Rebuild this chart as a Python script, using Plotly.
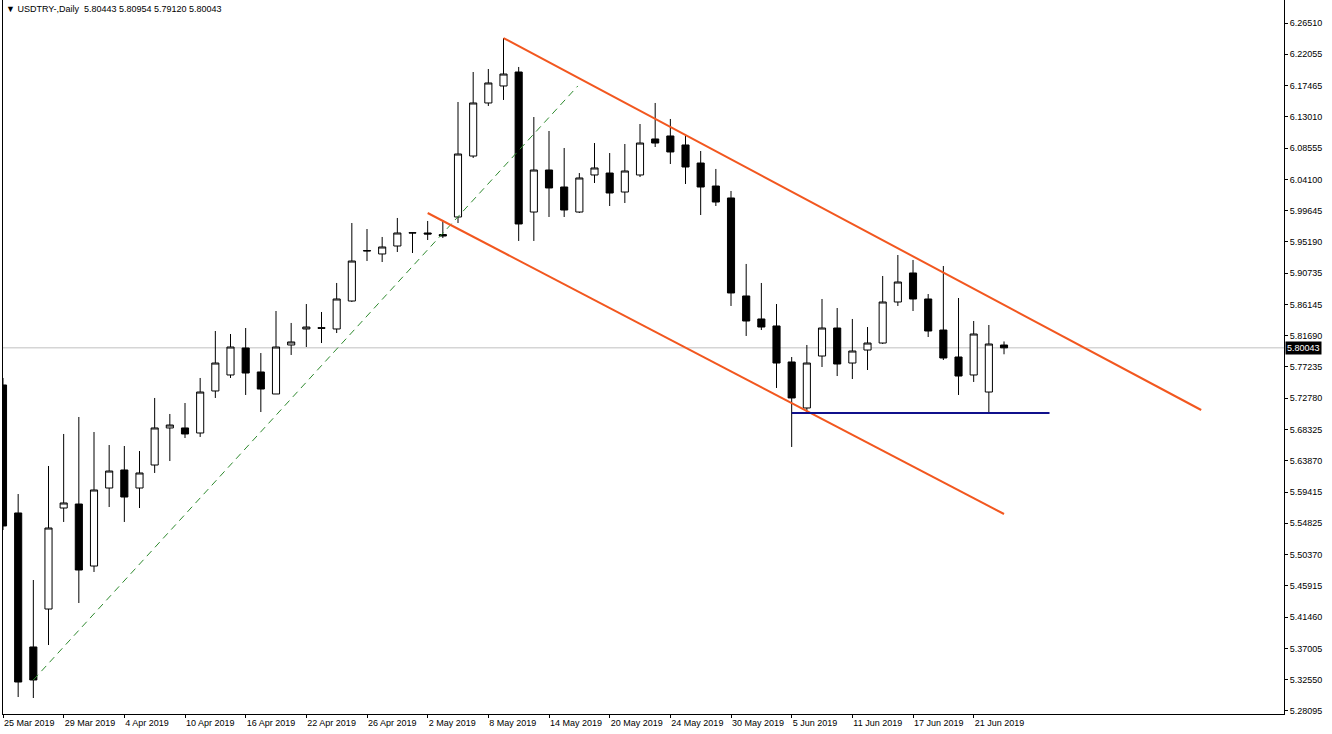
import numpy as np
import plotly.graph_objects as go

# ---- data ----
dates = ["25 Mar", "26 Mar", "27 Mar", "28 Mar", "29 Mar", "1 Apr", "2 Apr", "3 Apr", "4 Apr", "5 Apr",
         "8 Apr", "9 Apr", "10 Apr", "11 Apr", "12 Apr", "15 Apr", "16 Apr", "17 Apr", "18 Apr", "19 Apr",
         "22 Apr", "23 Apr", "24 Apr", "25 Apr", "26 Apr", "29 Apr", "30 Apr", "1 May", "2 May", "3 May",
         "6 May", "7 May", "8 May", "9 May", "10 May", "13 May", "14 May", "15 May", "16 May", "17 May",
         "20 May", "21 May", "22 May", "23 May", "24 May", "27 May", "28 May", "29 May", "30 May", "31 May",
         "3 Jun", "4 Jun", "5 Jun", "6 Jun", "7 Jun", "10 Jun", "11 Jun", "12 Jun", "13 Jun", "14 Jun",
         "17 Jun", "18 Jun", "19 Jun", "20 Jun", "21 Jun", "24 Jun", "25 Jun"]

open_ = [5.7473, 5.5642, 5.3725, 5.4268, 5.5713, 5.5770, 5.4883, 5.5999, 5.6257, 5.5999,
         5.6328, 5.6858, 5.6858, 5.6786, 5.7387, 5.7616, 5.8002, 5.7659, 5.7344, 5.8045,
         5.8274, 5.8292, 5.8274, 5.8674, 5.9389, 5.9347, 5.9461, 5.9647, 5.9647, 5.9625,
         5.9876, 6.0748, 6.1507, 6.1750, 6.1950, 5.9947, 6.0548, 6.0305, 5.9947, 6.0477,
         6.0505, 6.0233, 6.0477, 6.0992, 6.1035, 6.0906, 6.0648, 6.0319, 6.0148, 5.8746,
         5.8417, 5.8317, 5.7802, 5.7144, 5.7887, 5.8288, 5.7787, 5.7973, 5.8073, 5.8660,
         5.9075, 5.8703, 5.8259, 5.7873, 5.7616, 5.7372, 5.80443]
high = [5.7573, 5.5913, 5.4683, 5.6314, 5.6772, 5.7015, 5.6800, 5.6614, 5.6600, 5.6528,
        5.7287, 5.7058, 5.7215, 5.7573, 5.8245, 5.8202, 5.8288, 5.7930, 5.8531, 5.8360,
        5.8631, 5.8517, 5.8932, 5.9790, 5.9704, 5.9590, 5.9862, 5.9652, 5.9819, 5.9833,
        6.1521, 6.1950, 6.1993, 6.2436, 6.2022, 6.1306, 6.1106, 6.0863, 6.0505, 6.0934,
        6.0791, 6.0920, 6.1206, 6.1507, 6.1278, 6.1035, 6.0820, 6.0563, 6.0248, 5.9204,
        5.8932, 5.8631, 5.7873, 5.8045, 5.8703, 5.8574, 5.8417, 5.8302, 5.9032, 5.9332,
        5.9261, 5.8774, 5.9175, 5.8717, 5.8388, 5.8331, 5.80954]
low = [5.5398, 5.3009, 5.2995, 5.3753, 5.5513, 5.4354, 5.4798, 5.5727, 5.5513, 5.5713,
       5.6214, 5.6385, 5.6714, 5.6729, 5.7287, 5.7573, 5.7330, 5.7086, 5.7344, 5.7902,
       5.8016, 5.8073, 5.8216, 5.8660, 5.9246, 5.9232, 5.9375, 5.9361, 5.9547, 5.9575,
       5.9790, 6.0720, 6.1464, 6.1550, 5.9533, 5.9533, 5.9876, 5.9876, 5.9933, 6.0362,
       6.0033, 6.0076, 6.0448, 6.0877, 6.0634, 6.0348, 5.9904, 6.0033, 5.8603, 5.8174,
       5.8259, 5.7430, 5.6586, 5.7086, 5.7730, 5.7601, 5.7558, 5.7687, 5.8059, 5.8603,
       5.8531, 5.8159, 5.7830, 5.7330, 5.7516, 5.7072, 5.79120]
close = [5.5456, 5.3224, 5.3253, 5.5427, 5.5785, 5.4826, 5.5971, 5.6242, 5.5870, 5.6214,
         5.6858, 5.6900, 5.6772, 5.7372, 5.7787, 5.8016, 5.7644, 5.7415, 5.8016, 5.8088,
         5.8302, 5.8285, 5.8703, 5.9246, 5.9395, 5.9447, 5.9647, 5.9650, 5.9633, 5.9604,
         6.0777, 6.1507, 6.1793, 6.1921, 5.9776, 6.0548, 6.0291, 5.9976, 6.0434, 6.0577,
         6.0219, 6.0534, 6.0934, 6.0934, 6.0806, 6.0591, 6.0305, 6.0090, 5.8789, 5.8388,
         5.8302, 5.7787, 5.7287, 5.7787, 5.8288, 5.7773, 5.7959, 5.8073, 5.8660, 5.8946,
         5.8703, 5.8245, 5.7859, 5.7601, 5.8202, 5.8059, 5.80043]

# trend lines (bar index, price)
upper_x = [33, 79]
upper_y = [6.2436, 5.7115]
lower_x = [28, 66]
lower_y = [5.9933, 5.5627]
green_x = [2, 37.9]
green_y = [5.3253, 6.1750]
support_x = [52, 69]
support_y = [5.7072, 5.7072]
bid = 5.80043

x_tick_idx = [0, 4, 8, 12, 16, 20, 24, 28, 32, 36, 40, 44, 48, 52, 56, 60, 64]
x_tick_text = ["25 Mar 2019", "29 Mar 2019", "4 Apr 2019", "10 Apr 2019", "16 Apr 2019", "22 Apr 2019",
               "26 Apr 2019", "2 May 2019", "8 May 2019", "14 May 2019", "20 May 2019", "24 May 2019",
               "30 May 2019", "5 Jun 2019", "11 Jun 2019", "17 Jun 2019", "21 Jun 2019"]
y_tick_text = ["6.26510", "6.22055", "6.17465", "6.13010", "6.08555", "6.04100", "5.99645", "5.95190",
               "5.90735", "5.86145", "5.81690", "5.77235", "5.72780", "5.68325", "5.63870", "5.59415",
               "5.54825", "5.50370", "5.45915", "5.41460", "5.37005", "5.32550", "5.28095"]
y_tick_top, y_tick_bottom = 6.26510, 5.28095

title_text = "▼ USDTRY-,Daily  5.80443 5.80954 5.79120 5.80043"

FONT = "Liberation Sans, Arial, sans-serif"
idx = list(range(len(dates)))

fig = go.Figure()
fig.add_trace(go.Candlestick(
    x=idx, open=open_, high=high, low=low, close=close,
    increasing=dict(fillcolor="white", line=dict(color="black", width=1)),
    decreasing=dict(fillcolor="black", line=dict(color="black", width=1)),
    whiskerwidth=0, hoverinfo="skip", showlegend=False,
))
fig.add_trace(go.Scatter(x=green_x, y=green_y, mode="lines",
                         line=dict(color="#2f8a2f", width=1, dash="7px,5px"),
                         hoverinfo="skip", showlegend=False))
fig.add_trace(go.Scatter(x=upper_x, y=upper_y, mode="lines",
                         line=dict(color="#f2571f", width=2), hoverinfo="skip", showlegend=False))
fig.add_trace(go.Scatter(x=lower_x, y=lower_y, mode="lines",
                         line=dict(color="#f2571f", width=2), hoverinfo="skip", showlegend=False))
fig.add_trace(go.Scatter(x=support_x, y=support_y, mode="lines",
                         line=dict(color="#10108c", width=2), hoverinfo="skip", showlegend=False))

# bid line
fig.add_shape(type="line", xref="paper", x0=0, x1=1, yref="y", y0=bid, y1=bid,
              line=dict(color="#c0c0c0", width=1), layer="below")

fig.add_annotation(xref="paper", yref="y", x=1, y=bid, xanchor="left", yanchor="middle",
                   xshift=1, text="5.80043", showarrow=False, bgcolor="black",
                   font=dict(family=FONT, size=9, color="white"), borderpad=1)
fig.add_annotation(xref="paper", yref="paper", x=0, y=1, xanchor="left", yanchor="top",
                   xshift=1, yshift=-2, text=title_text, showarrow=False,
                   font=dict(family=FONT, size=9, color="black"))

yticks = list(np.linspace(y_tick_top, y_tick_bottom, len(y_tick_text)))

fig.update_layout(
    width=1332, height=734,
    margin=dict(l=3, r=48, t=0, b=20, autoexpand=False),
    paper_bgcolor="white", plot_bgcolor="white",
    hovermode=False, boxgap=0.33,
    font=dict(family=FONT, size=9, color="black"),
    xaxis=dict(range=[0, 84.46], rangeslider=dict(visible=False), showgrid=False, zeroline=False,
               tickmode="array", tickvals=x_tick_idx, ticktext=x_tick_text, tickangle=0,
               ticks="outside", ticklen=3, tickcolor="black", tickwidth=1,
               ticklabelposition="outside right", automargin=False,
               showline=True, linecolor="black", linewidth=1,
               tickfont=dict(family=FONT, size=9, color="black")),
    yaxis=dict(range=[5.27662, 6.29800], side="right", showgrid=False, zeroline=False,
               tickmode="array", tickvals=yticks, ticktext=y_tick_text,
               ticks="outside", ticklen=3, tickcolor="black", tickwidth=1,
               ticklabelstandoff=0, automargin=False,
               showline=True, linecolor="black", linewidth=1, mirror=True,
               tickfont=dict(family=FONT, size=9, color="black")),
)

fig.write_html("out.html", config={"displayModeBar": False, "staticPlot": True},
               post_script="document.body.style.margin='0px';document.body.style.overflow='hidden';")
